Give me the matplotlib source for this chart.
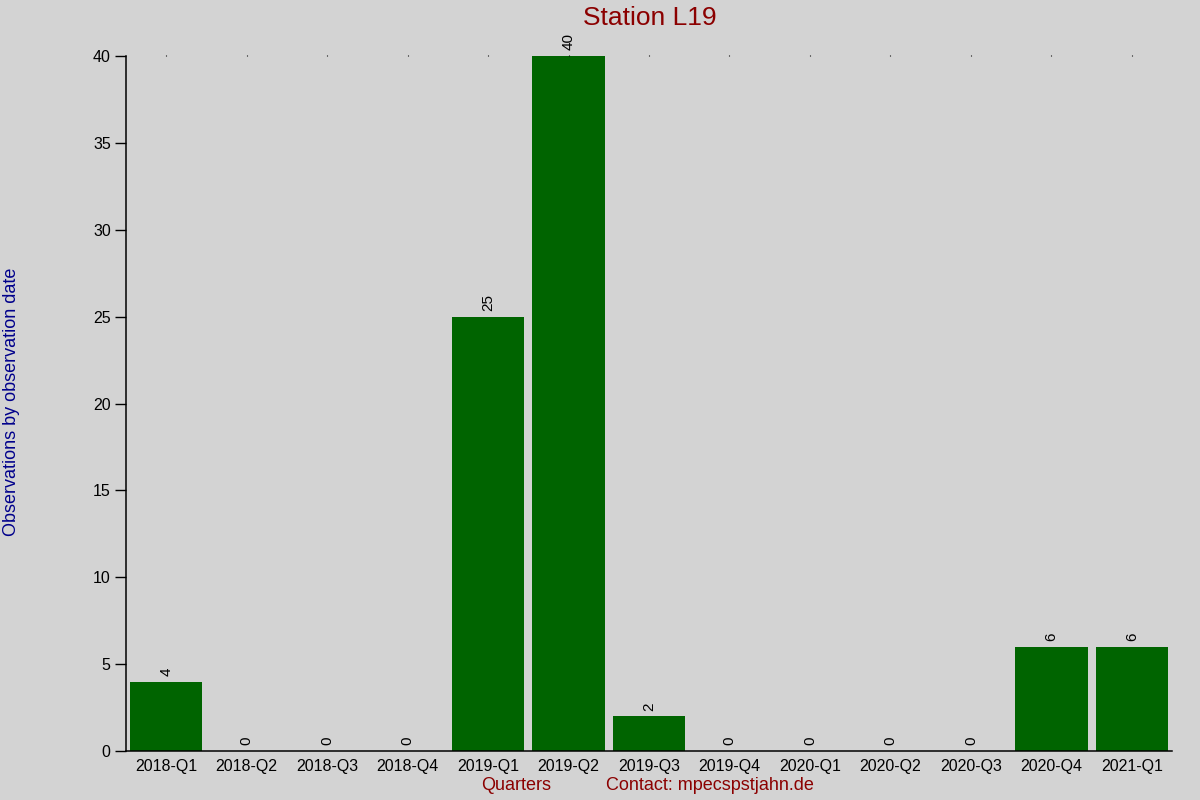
import matplotlib
matplotlib.use("Agg")
import matplotlib.pyplot as plt

# Dane: liczba obserwacji w kwartałach
kwartaly = ["2018-Q1", "2018-Q2", "2018-Q3", "2018-Q4",
            "2019-Q1", "2019-Q2", "2019-Q3", "2019-Q4",
            "2020-Q1", "2020-Q2", "2020-Q3", "2020-Q4", "2021-Q1"]
obserwacje = [4, 0, 0, 0, 25, 40, 2, 0, 0, 0, 0, 6, 6]
y_ticks = [0, 5, 10, 15, 20, 25, 30, 35, 40]

plt.rcParams['font.family'] = ['Liberation Sans', 'DejaVu Sans']

tlo = '#d3d3d3'
fig = plt.figure(figsize=(12, 8), dpi=100, facecolor=tlo)
ax = fig.add_axes([0.105, 0.06125, 0.8717, 0.86875])
ax.set_facecolor(tlo)

pozycje = list(range(len(kwartaly)))
ax.bar(pozycje, obserwacje, width=0.9, color='#006400')

# Etykiety wartości nad słupkami (obrócone)
for x, v in zip(pozycje, obserwacje):
    ax.annotate(str(v), (x, v), xytext=(0, 4), textcoords='offset points',
                rotation=90, ha='center', va='bottom', fontsize=11)

ax.set_xlim(-0.5, len(kwartaly) - 0.5)
ax.set_ylim(0, 40)
ax.set_xticks(pozycje)
ax.set_xticklabels(kwartaly, fontsize=11.5)
ax.set_yticks(y_ticks)
ax.tick_params(axis='y', length=8, width=1, labelsize=11.5, pad=3)
ax.tick_params(axis='x', bottom=False, top=True, labelbottom=True,
               labeltop=False, length=1, width=0.8, pad=5)

for s in ['top', 'right']:
    ax.spines[s].set_visible(False)
for s in ['left', 'bottom']:
    ax.spines[s].set_linewidth(1.1)

fig.text(0.5417, 0.9775, "Station L19", color='#8b0000', fontsize=19,
         ha='center', va='center')
fig.text(0.43, 0.0175, "Quarters", color='#8b0000', fontsize=13,
         ha='center', va='center')
fig.text(0.5917, 0.0175, "Contact: mpecspstjahn.de", color='#8b0000',
         fontsize=13, ha='center', va='center')
fig.text(0.0095, 0.4975, "Observations by observation date", color='#00008b',
         fontsize=13, rotation=90, ha='center', va='center')

fig.savefig("out.png", dpi=100, facecolor=tlo)
